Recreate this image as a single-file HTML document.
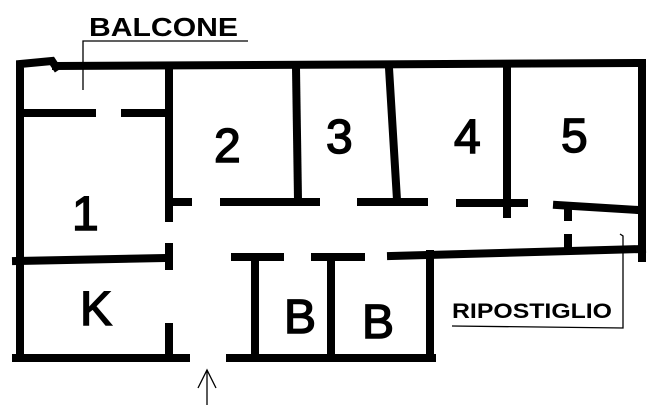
<!DOCTYPE html>
<html><head><meta charset="utf-8"><style>
html,body{margin:0;padding:0;background:#fff;}
svg{display:block;}
</style></head><body>
<svg width="660" height="409" viewBox="0 0 660 409" xmlns="http://www.w3.org/2000/svg">
<g stroke="#000" stroke-width="8" stroke-linecap="square" fill="none">
<polyline points="20,358 20,64 52,61 56,67"/>
<line x1="56" y1="66" x2="642" y2="63"/>
<line x1="642" y1="63" x2="642" y2="258"/>
<line x1="16" y1="358" x2="186" y2="358"/>
<line x1="230" y1="358" x2="432" y2="358"/>
<line x1="24" y1="113" x2="92" y2="113"/>
<line x1="125" y1="113" x2="166" y2="113"/>
<line x1="169" y1="68" x2="169" y2="218"/>
<line x1="169" y1="247" x2="169" y2="266"/>
<line x1="169" y1="327" x2="169" y2="356"/>
<line x1="296" y1="68" x2="298" y2="200"/>
<line x1="389" y1="68" x2="397" y2="200"/>
<line x1="507" y1="68" x2="507" y2="214"/>
<line x1="16" y1="261" x2="168" y2="258"/>
<line x1="171" y1="202" x2="188" y2="202"/>
<line x1="224" y1="202" x2="316" y2="202"/>
<line x1="361" y1="202" x2="424" y2="202"/>
<line x1="460" y1="203" x2="524" y2="203"/>
<line x1="557" y1="205" x2="638" y2="210"/>
<line x1="568" y1="210" x2="568" y2="217"/>
<line x1="568" y1="238" x2="568" y2="246"/>
<line x1="235" y1="257" x2="280" y2="257"/>
<line x1="315" y1="257" x2="361" y2="257"/>
<line x1="391" y1="256" x2="642" y2="249"/>
<line x1="255" y1="257" x2="255" y2="356"/>
<line x1="331" y1="257" x2="331" y2="356"/>
<line x1="430" y1="254" x2="430" y2="356"/>
</g>
<g stroke="#000" stroke-width="1.3" fill="none">
<polyline points="83,90 83,41 248,41"/>
<polyline points="452,326 623,328 623,236 620,234"/>
<line x1="207" y1="370" x2="207" y2="405"/>
<polyline points="198,388 207,370 216,388"/>
</g>
<g font-family="Liberation Sans, sans-serif" font-weight="bold" fill="#000">
<text x="89" y="36" font-size="26" textLength="149" lengthAdjust="spacingAndGlyphs">BALCONE</text>
<text x="452" y="318" font-size="21" textLength="160" lengthAdjust="spacingAndGlyphs">RIPOSTIGLIO</text>
</g>
<g font-family="Liberation Sans, sans-serif" fill="#000" stroke="#000" stroke-width="1.5" font-size="48">
<text x="72" y="230">1</text>
<text x="214" y="162">2</text>
<text x="326" y="153">3</text>
<text x="454" y="153">4</text>
<text x="561" y="152">5</text>
<text x="80" y="325">K</text>
<text x="284" y="333">B</text>
<text x="362" y="338">B</text>
</g>
</svg>
</body></html>
